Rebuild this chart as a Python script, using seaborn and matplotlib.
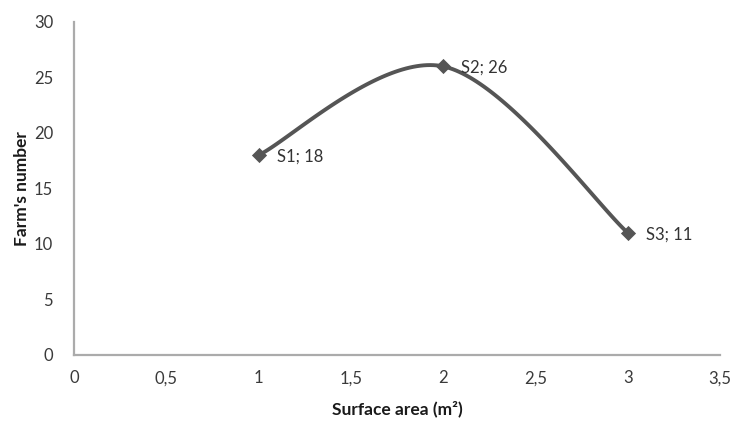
import numpy as np
import pandas as pd
import matplotlib
matplotlib.use("Agg")
import matplotlib.pyplot as plt
import seaborn as sns

# Data
surface = [1, 2, 3]
farms = [18, 26, 11]
names = ["S1", "S2", "S3"]
x_ticks = [0, 0.5, 1, 1.5, 2, 2.5, 3, 3.5]
x_tick_labels = ["0", "0,5", "1", "1,5", "2", "2,5", "3", "3,5"]
y_ticks = [0, 5, 10, 15, 20, 25, 30]


def smooth_curve(xs, ys, n=60):
    """Catmull-Rom style Bezier smoothing through the points."""
    pts = np.column_stack([xs, ys]).astype(float)
    padded = np.vstack([pts[0], pts, pts[-1]])
    out = []
    t = np.linspace(0, 1, n)[:, None]
    for i in range(1, len(padded) - 2):
        p0, p1, p2, p3 = padded[i - 1], padded[i], padded[i + 1], padded[i + 2]
        c1 = p1 + (p2 - p0) / 6
        c2 = p2 - (p3 - p1) / 6
        seg = ((1 - t) ** 3) * p1 + 3 * ((1 - t) ** 2) * t * c1 + 3 * (1 - t) * t ** 2 * c2 + t ** 3 * p2
        out.append(seg if i == 1 else seg[1:])
    return np.vstack(out)


sns.set_style("white")
plt.rcParams["font.family"] = ["Lato", "DejaVu Sans"]

fig = plt.figure(figsize=(7.35, 4.23), dpi=100)
ax = fig.add_axes([0.1007, 0.161, 0.879, 0.787])

curve = smooth_curve(surface, farms)
curve_df = pd.DataFrame({"x": curve[:, 0], "y": curve[:, 1]})
points_df = pd.DataFrame({"x": surface, "y": farms, "name": names})

line_color = "#555555"
sns.lineplot(data=curve_df, x="x", y="y", ax=ax, color=line_color, linewidth=2.8,
             sort=False, estimator=None)
sns.scatterplot(data=points_df, x="x", y="y", ax=ax, color=line_color, marker="D",
                s=60, edgecolor=line_color, linewidth=0, zorder=3)

for xv, yv, nm in zip(surface, farms, names):
    ax.annotate(f"{nm}; {yv}", (xv, yv), xytext=(13, -1), textcoords="offset points",
                ha="left", va="center", fontsize=12, color="#333333")

ax.set_xlim(0, 3.5)
ax.set_ylim(0, 30)
ax.set_xticks(x_ticks)
ax.set_xticklabels(x_tick_labels)
ax.set_yticks(y_ticks)
ax.tick_params(axis="both", length=0, labelsize=12, labelcolor="#3a3a3a")
ax.tick_params(axis="x", pad=11)
ax.tick_params(axis="y", pad=15)

for side in ["top", "right"]:
    ax.spines[side].set_visible(False)
for side in ["left", "bottom"]:
    ax.spines[side].set_color("#ababab")
    ax.spines[side].set_linewidth(1.6)

ax.set_xlabel("Surface area (m²)", fontsize=12.5, fontweight="bold", color="#1a1a1a", labelpad=10)
ax.set_ylabel("Farm's number", fontsize=12.5, fontweight="bold", color="#1a1a1a", labelpad=3)

fig.savefig("out.png", dpi=100)
